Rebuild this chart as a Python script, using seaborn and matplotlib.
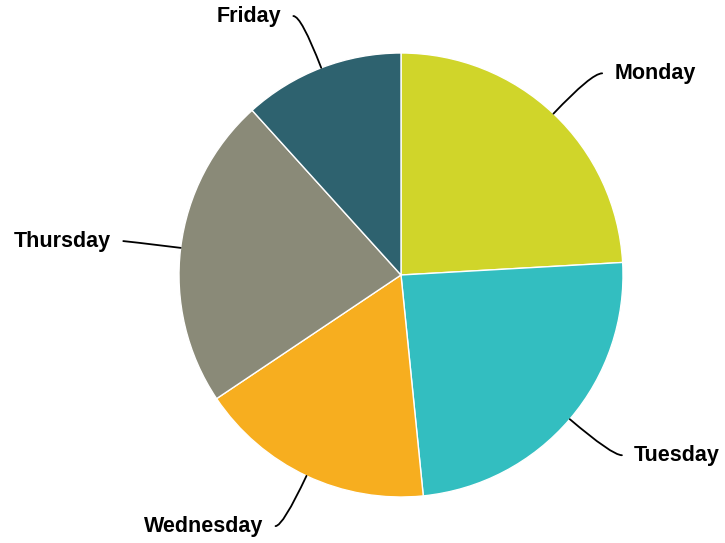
import numpy as np
import matplotlib
matplotlib.use("Agg")
import matplotlib.pyplot as plt
import seaborn as sns

days = ["Monday", "Tuesday", "Wednesday", "Thursday", "Friday"]
shares = [24.1, 24.3, 17.2, 22.7, 11.7]
slice_colors = ["#D0D52A", "#33BEC0", "#F7AE1F", "#8A8A78", "#2E626F"]

sns.set_theme(style="white")
plt.rcParams["font.family"] = ["Liberation Sans", "DejaVu Sans"]

palette = sns.color_palette(slice_colors)

W, H = 725, 543
fig = plt.figure(figsize=(W / 100, H / 100), dpi=100)
ax = fig.add_axes([0, 0, 1, 1])

wedges, _ = ax.pie(
    shares,
    colors=palette,
    startangle=90,
    counterclock=False,
    radius=1,
    center=(0, 0),
    wedgeprops=dict(edgecolor="white", linewidth=1),
)

# pie centre and radius in pixels, converted to data units (radius = 1)
cx, cy, r = 401, 275, 222
ax.set_aspect("auto")
ax.set_xlim(-cx / r, (W - cx) / r)
ax.set_ylim(-(H - cy) / r, cy / r)
ax.axis("off")

# curved leader lines from each wedge's outer edge to its label
for w, name in zip(wedges, days):
    mid = np.deg2rad((w.theta1 + w.theta2) / 2)
    ex, ey = np.cos(mid), np.sin(mid)
    right = ex >= 0
    side = 1 if right else -1
    lx = 1.21 * ex + (0.075 if right else -0.05)
    ly = 1.25 * ey
    ax.annotate(
        "",
        xy=(ex, ey),
        xytext=(lx, ly),
        arrowprops=dict(
            arrowstyle="-",
            color="black",
            lw=1.3,
            shrinkA=0,
            shrinkB=0,
            connectionstyle=f"angle3,angleA=0,angleB={np.rad2deg(mid):.1f}",
        ),
    )
    ax.text(
        lx + 0.055 * side,
        ly,
        name,
        ha="left" if right else "right",
        va="center",
        fontsize=15.5,
        fontweight="bold",
        color="black",
    )

fig.savefig("out.png", dpi=100)
